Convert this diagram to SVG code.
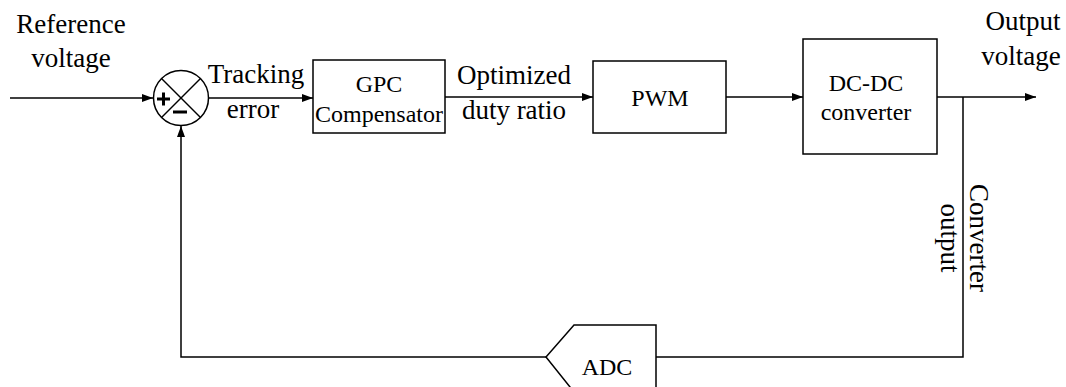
<svg xmlns="http://www.w3.org/2000/svg" width="1066" height="387" viewBox="0 0 1066 387">
<defs>
<marker id="arr" markerWidth="12" markerHeight="10" refX="11" refY="5" orient="auto" markerUnits="userSpaceOnUse">
<path d="M0,1 L11,5 L0,9 Z" fill="#000"/>
</marker>
<style>
.box{fill:#fff;stroke:#000;stroke-width:1.5}
.ln{fill:none;stroke:#000;stroke-width:1.5}
</style>
</defs>
<rect width="1066" height="387" fill="#fff"/>
<g id="connectors">
<line class="ln" x1="10" y1="98" x2="153" y2="98" marker-end="url(#arr)"/>
<line class="ln" x1="208" y1="98" x2="313" y2="98" marker-end="url(#arr)"/>
<line class="ln" x1="445" y1="97" x2="593" y2="97" marker-end="url(#arr)"/>
<line class="ln" x1="726" y1="97" x2="803" y2="97" marker-end="url(#arr)"/>
<line class="ln" x1="937" y1="97" x2="1036" y2="97" marker-end="url(#arr)"/>
<polyline class="ln" points="963,97 963,357 656,357"/>
<polyline class="ln" points="546,357 181,357 181,126" marker-end="url(#arr)"/>
</g>
<g id="sum">
<circle class="box" cx="181" cy="98" r="27.5"/>
<line class="ln" x1="161.5" y1="78.5" x2="200.5" y2="117.5"/>
<line class="ln" x1="200.5" y1="78.5" x2="161.5" y2="117.5"/>
<path d="M157,99 H170 M163.5,92.5 V105.5" stroke="#000" stroke-width="3" fill="none"/>
<path d="M173,112 H187" stroke="#000" stroke-width="3" fill="none"/>
</g>
<g id="gpc">
<rect class="box" x="313" y="60" width="132" height="73"/>
<text font-family="Liberation Serif" font-size="24" text-anchor="middle" x="379" y="92">GPC</text>
<text font-family="Liberation Serif" font-size="24" text-anchor="middle" x="379" y="122">Compensator</text>
</g>
<g id="pwm">
<rect class="box" x="593" y="61" width="133" height="72"/>
<text font-family="Liberation Serif" font-size="24" text-anchor="middle" x="660" y="106">PWM</text>
</g>
<g id="dcdc">
<rect class="box" x="803" y="39" width="134" height="115"/>
<text font-family="Liberation Serif" font-size="24" text-anchor="middle" x="866" y="91">DC-DC</text>
<text font-family="Liberation Serif" font-size="24" text-anchor="middle" x="866" y="120">converter</text>
</g>
<g id="adc">
<path class="box" d="M574,325 H656 V392 H574 L546,357 Z"/>
<text font-family="Liberation Serif" font-size="24" text-anchor="middle" x="607" y="375">ADC</text>
</g>
<g id="labels">
<text font-family="Liberation Serif" font-size="27" text-anchor="middle" x="71" y="33">Reference</text>
<text font-family="Liberation Serif" font-size="27" text-anchor="middle" x="71" y="67">voltage</text>
<text font-family="Liberation Serif" font-size="27" text-anchor="middle" x="256" y="83">Tracking</text>
<text font-family="Liberation Serif" font-size="27" text-anchor="middle" x="253" y="118">error</text>
<text font-family="Liberation Serif" font-size="27" text-anchor="middle" x="514" y="84">Optimized</text>
<text font-family="Liberation Serif" font-size="27" text-anchor="middle" x="514" y="119">duty ratio</text>
<text font-family="Liberation Serif" font-size="27" text-anchor="middle" x="1023" y="30">Output</text>
<text font-family="Liberation Serif" font-size="27" text-anchor="middle" x="1021" y="65">voltage</text>
<text font-family="Liberation Serif" font-size="27" text-anchor="middle" transform="translate(970,238) rotate(90)">Converter</text>
<text font-family="Liberation Serif" font-size="27" text-anchor="middle" transform="translate(941,238) rotate(90)">output</text>
</g>
</svg>
